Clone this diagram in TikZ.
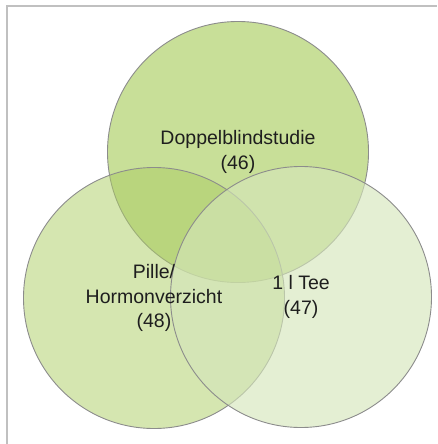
\documentclass[tikz,border=0pt]{standalone}
\usepackage{fontspec}
\setmainfont{Liberation Sans}
\usetikzlibrary{positioning}
\definecolor{vtop}{RGB}{200,223,152}
\definecolor{vleft}{RGB}{172,205,100}
\definecolor{vright}{RGB}{213,230,186}
\definecolor{vline}{RGB}{140,140,140}
\definecolor{vframe}{RGB}{192,192,192}
\definecolor{vtext}{RGB}{30,30,30}

\begin{document}
\begin{tikzpicture}
	[   x=1pt,y=-1pt,
		vset/.style={draw=vline,line width=0.9pt,fill=#1,circle,minimum size=261pt,inner sep=0pt},
	]
	\tikzset{vlabel/.style={text=vtext,align=center,font=\fontsize{19.5}{24.5}\selectfont}}
	\useasboundingbox (0,0) rectangle (438,444);
	\draw[vframe,line width=1.5pt] (7,444) -- (7,6) -- (437,6);
	
	% the three sets
	\foreach \i/\pos/\col/\op in {1/{238,152}/vtop/1, 2/{154,298}/vleft/0.51, 3/{301,297}/vright/0.64}
	{
		\node[vset=\col,fill opacity=\op] (c-\i) at (\pos) {};
	}
	
	\node[vlabel] (l-1) at (c-1) {Doppelblindstudie\\(46)};
	\node[vlabel] (l-2) at (c-2) {Pille/\\Hormonverzicht\\(48)};
	\node[vlabel] (l-3) at (c-3) {1 l Tee\\(47)};
\end{tikzpicture}
\end{document}
